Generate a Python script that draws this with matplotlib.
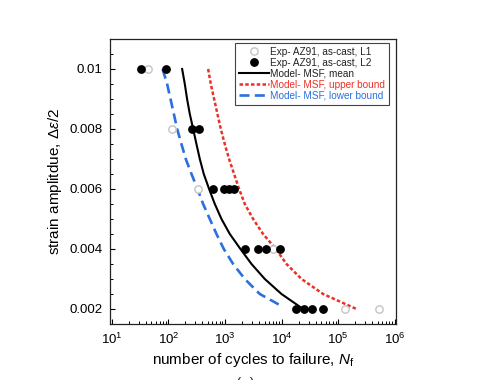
import matplotlib
matplotlib.use("Agg")
import matplotlib.pyplot as plt
from matplotlib.lines import Line2D
from matplotlib.ticker import MultipleLocator

plt.rcParams['font.family'] = ['Liberation Sans', 'DejaVu Sans']
plt.rcParams['mathtext.fontset'] = 'custom'
plt.rcParams['mathtext.rm'] = 'Liberation Sans'
plt.rcParams['mathtext.it'] = 'Liberation Sans:italic'
plt.rcParams['mathtext.bf'] = 'Liberation Sans:bold'

# %% Data

# experiments, L1 (open grey circles)
amp_l1 = [0.01, 0.008, 0.006, 0.004, 0.002, 0.002]
n_l1 = [44, 118, 335, 7100, 131000, 520000]

# experiments, L2 (filled black circles)
amp_l2 = [0.01, 0.01, 0.008, 0.008, 0.006, 0.006, 0.006, 0.006,
          0.004, 0.004, 0.004, 0.004, 0.002, 0.002, 0.002, 0.002]
n_l2 = [33, 90, 266, 348, 617, 953, 1167, 1429,
        2240, 3850, 5400, 9300, 18300, 24700, 34600, 54100]

# model curves (amplitude, cycles)
amp_mean = [0.01, 0.0095, 0.009, 0.0085, 0.008, 0.0075, 0.007, 0.0065, 0.006,
            0.0055, 0.005, 0.0045, 0.004, 0.0035, 0.003, 0.0025, 0.002]
n_mean = [175, 195, 214, 239, 274, 313, 359, 422, 524,
          661, 867, 1216, 1875, 2940, 5050, 9950, 24000]

amp_upper = [0.01, 0.0095, 0.009, 0.0085, 0.008, 0.0075, 0.007, 0.0065, 0.006,
             0.0055, 0.005, 0.0045, 0.004, 0.0035, 0.003, 0.0025, 0.002]
n_upper = [504, 561, 643, 736, 843, 991, 1181, 1448, 1775,
           2240, 3140, 4710, 7910, 12200, 22500, 54100, 210000]

amp_lower = [0.01, 0.0095, 0.009, 0.0085, 0.008, 0.0075, 0.007, 0.0065, 0.006,
             0.0055, 0.005, 0.0045, 0.004, 0.0035, 0.003, 0.0025, 0.0021]
n_lower = [79, 95, 109, 125, 143, 170, 203, 256, 327,
           411, 539, 708, 953, 1393, 2240, 4120, 9950]

ytick_vals = [0.002, 0.004, 0.006, 0.008, 0.01]
ytick_labels = ['0.002', '0.004', '0.006', '0.008', '0.01']

labels = ['Exp- AZ91, as-cast, L1', 'Exp- AZ91, as-cast, L2', 'Model- MSF, mean',
          'Model- MSF, upper bound', 'Model- MSF, lower bound']

# %% Plot

red = '#ea3128'
blue = '#2b6fe0'
grey = '#c4c4c4'
red_dash = (1.4, 0.9)
blue_dash = (3.8, 2.0)

fig = plt.figure(figsize=(4.97, 3.80), dpi=100)
ax = fig.add_axes([0.2213, 0.1474, 0.5755, 0.75])

ax.plot(n_mean, amp_mean, '-', color='black', lw=1.5)
ax.plot(n_upper, amp_upper, color=red, lw=1.8, dashes=red_dash)
ax.plot(n_lower, amp_lower, color=blue, lw=1.9, dashes=blue_dash)
ax.plot(n_l1, amp_l1, 'o', ms=5.3, mfc='white', mec=grey, mew=1.0, ls='none')
ax.plot(n_l2, amp_l2, 'o', ms=5.3, mfc='black', mec='black', ls='none')

ax.set_xscale('log')
ax.set_xlim(9.3, 1.05e6)
ax.set_ylim(0.0015, 0.011)
ax.set_yticks(ytick_vals)
ax.set_yticklabels(ytick_labels)
ax.yaxis.set_minor_locator(MultipleLocator(0.0005))

ax.tick_params(which='both', direction='in', top=False, right=False, labelsize=9.5, pad=5.5)
ax.tick_params(which='major', length=3.5, width=0.8)
ax.tick_params(which='minor', length=2, width=0.7)
for s in ax.spines.values():
    s.set_linewidth(0.9)
    s.set_color('#222222')

ax.set_xlabel(r'number of cycles to failure, $N_\mathrm{f}$', fontsize=11, labelpad=3)
ax.set_ylabel(r'strain amplitdue, $\Delta\varepsilon/2$', fontsize=11, labelpad=4)

handles = [
    Line2D([], [], marker='o', ms=5.3, mfc='white', mec=grey, mew=1.0, ls='none'),
    Line2D([], [], marker='o', ms=5.3, mfc='black', mec='black', ls='none'),
    Line2D([], [], color='black', lw=1.5),
    Line2D([], [], color=red, lw=1.8, dashes=red_dash),
    Line2D([], [], color=blue, lw=1.9, dashes=blue_dash),
]
leg = ax.legend(handles, labels, loc='upper right', bbox_to_anchor=(0.9755, 0.986),
                borderaxespad=0, fontsize=7.2, handlelength=3.0, handletextpad=0.1,
                labelspacing=0.1, borderpad=0.4, fancybox=False, framealpha=1,
                edgecolor='#444444')
leg.get_frame().set_linewidth(0.8)
text_colors = ['#222222', '#222222', '#222222', red, blue]
for t, c in zip(leg.get_texts(), text_colors):
    t.set_color(c)

# panel label, cut by the bottom edge as in the source picture
fig.text(0.493, 0.007, '(a)', ha='center', va='top', fontsize=11, color='#333333')

plt.savefig('out.png', dpi=100)
plt.close()
